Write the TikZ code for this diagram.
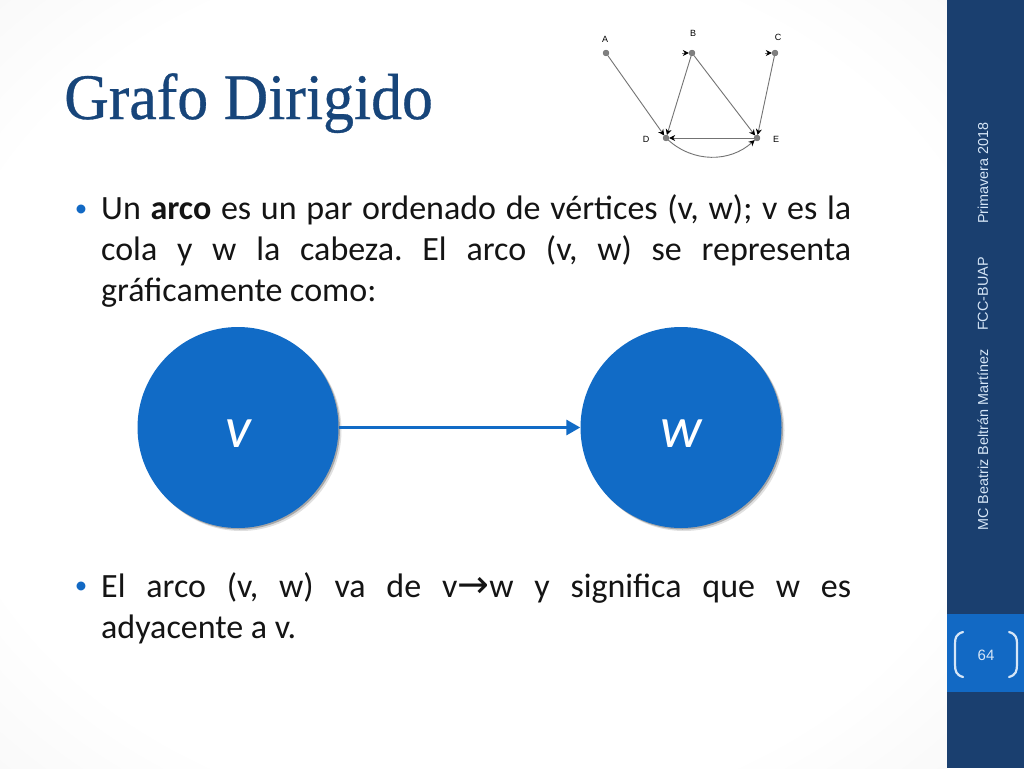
\documentclass[tikz,border=0pt]{standalone}
\usepackage{fontspec}
\setmainfont{Carlito}
\newfontfamily\titlefont[FakeStretch=0.95,AutoFakeBold=0.5]{Liberation Serif}
\newfontfamily\sidefont{Liberation Sans}
\newfontfamily\arrowfont{DejaVu Sans}
\usetikzlibrary{arrows.meta,shadows}
\definecolor{barblue}{HTML}{1A3F6F}
\definecolor{titleblue}{HTML}{17457A}
\definecolor{boxblue}{HTML}{1269C4}
\definecolor{nodeblue}{HTML}{116BC6}
\definecolor{lightline}{HTML}{D6E6F7}
\pgfdeclareradialshading{slidebg}{\pgfpoint{0bp}{0bp}}{color(0bp)=(white); color(28bp)=(white); color(70bp)=(black!13); color(100bp)=(black!13)}
\tikzset{
    bignode/.style={circle, fill=nodeblue, minimum size=201pt, inner sep=0pt, text=white,
        font=\fontsize{58}{58}\selectfont\itshape,
        drop shadow={shadow xshift=3pt, shadow yshift=-3pt, fill=black, opacity=0.12},
        drop shadow={shadow xshift=1.5pt, shadow yshift=-1.5pt, fill=black, opacity=0.25}},
    smallnode/.style={circle, fill=black!50, draw=black!60, line width=0.3pt, minimum size=6pt, inner sep=0pt},
    smalllabel/.style={font=\sidefont\fontsize{9}{9}\selectfont, text=black, inner sep=0pt},
    smalledge/.style={draw=black!55, line width=0.9pt, -{Stealth[length=6pt,width=6pt,black]}},
    bodytext/.style={anchor=north west, inner sep=0pt, text width=750pt, align=justify, text=black!92,
        font=\fontsize{34}{41}\selectfont\frenchspacing},
    bulletmark/.style={text=boxblue, inner sep=0pt, font=\fontsize{25}{25}\selectfont},
    sidetext/.style={rotate=90, text=lightline, inner sep=0pt, font=\sidefont\fontsize{14.4}{15}\selectfont}
}
\begin{document}
\begin{tikzpicture}[x=1pt,y=-1pt]
    \useasboundingbox (0,0) rectangle (1024,768);
    \shade [shading=slidebg] (0,0) rectangle (947,768);
    \fill [barblue] (947,0) rectangle (1024,768);
    \fill [boxblue] (947,614) rectangle (1024,692);
    \draw [lightline, line width=2.2pt, line cap=round] (963,632) .. controls (956,634) and (955,638) .. (955,644) -- (955,664) .. controls (955,671) and (956,675) .. (963,677);
    \draw [lightline, line width=2.2pt, line cap=round] (1009,632) .. controls (1016,634) and (1017,638) .. (1017,644) -- (1017,664) .. controls (1017,671) and (1016,675) .. (1009,677);
    \node [text=lightline, inner sep=0pt, font=\sidefont\fontsize{15}{15}\selectfont] (pagenum) at (986,655) {64};
    \node [sidetext] (datetext) at (983,173) {Primavera 2018};
    \node [sidetext] (schooltext) at (983,294) {FCC-BUAP};
    \node [sidetext] (authortext) at (983,440) {MC Beatriz Beltrán Martínez};

    \node [anchor=base west, inner sep=0pt, text=titleblue, font=\titlefont\bfseries\fontsize{65}{65}\selectfont] (title) at (64,119) {Grafo Dirigido};

    \node [bulletmark] (bulletone) at (81,211) {•};
    \node [bodytext] (parone) at (101,194) {Un \textbf{arco} es un par ordenado de vértices (v, w); v es la\linebreak cola y w la cabeza. El arco (v, w) se representa\linebreak gráficamente como:};
    \node [bulletmark] (bullettwo) at (81,588) {•};
    \node [bodytext] (partwo) at (101,572) {El arco (v, w) va de v{\arrowfont\fontsize{38}{34}\selectfont→}w y significa que w es\linebreak adyacente a v.};

    \node [bignode] (v) at (238,427.5) {\raisebox{-20pt}[0pt][0pt]{v}};
    \node [bignode] (w) at (681,427.5) {\raisebox{-20pt}[0pt][0pt]{w}};
    \draw [-{Triangle[length=14pt,width=15pt]}, nodeblue, line width=3pt] (v) -- (w);

    \node [smallnode] (a) at (606,53) {};
    \node [smallnode] (b) at (692,53) {};
    \node [smallnode] (c) at (775,53) {};
    \node [smallnode] (d) at (666,138) {};
    \node [smallnode] (e) at (757,138) {};
    \node [smalllabel] (labela) at (605,39) {A};
    \node [smalllabel] (labelb) at (693,33) {B};
    \node [smalllabel] (labelc) at (778,37) {C};
    \node [smalllabel] (labeld) at (646,139) {D};
    \node [smalllabel] (labele) at (776,139) {E};
    \coordinate (stubb) at (682,53);
    \coordinate (stubc) at (765,53);
    \draw [smalledge] (stubb) -- (b);
    \draw [smalledge] (stubc) -- (c);
    \draw [smalledge] (a) -- (d);
    \draw [smalledge] (b) -- (d);
    \draw [smalledge] (b) -- (e);
    \draw [smalledge] (c) -- (e);
    \draw [smalledge] (e) -- (d);
    \draw [smalledge] (d) to [bend right=42] (e);
\end{tikzpicture}
\end{document}
